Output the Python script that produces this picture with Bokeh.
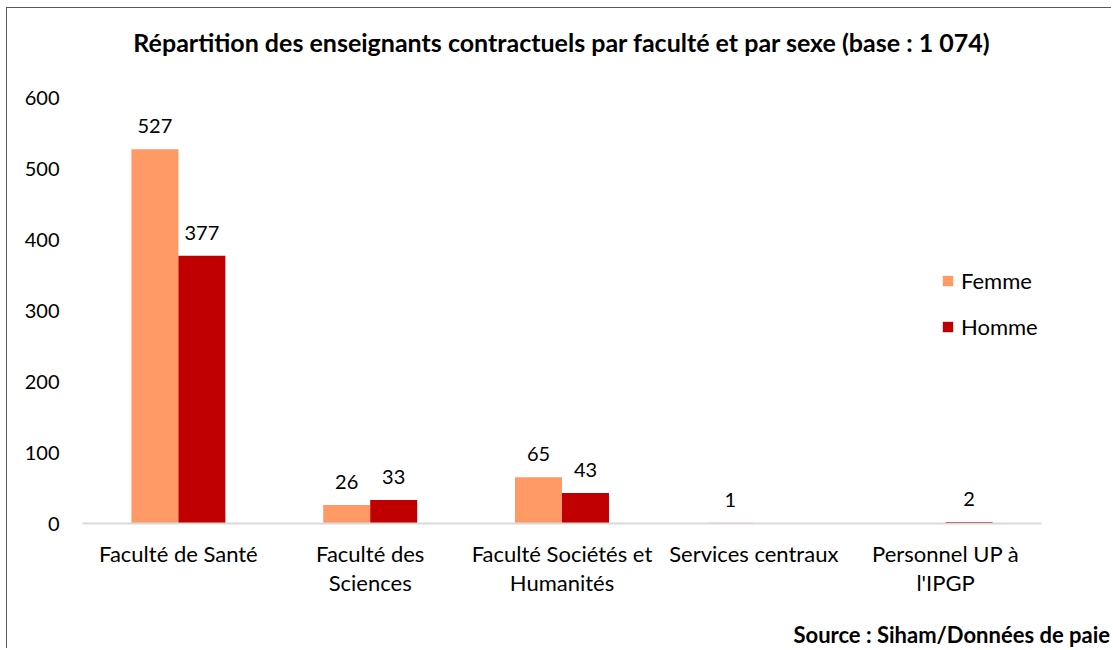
from bokeh.plotting import figure
from bokeh.models import ColumnDataSource, Legend, LegendItem, LabelSet, Range1d, FactorRange, Title
from bokeh.transform import dodge
from bokeh.core.properties import value
from bokeh.embed import file_html
from bokeh.resources import INLINE

categories = ["Faculté de Santé", "Faculté des\nSciences", "Faculté Sociétés et\nHumanités",
              "Services centraux", "Personnel UP à\nl'IPGP"]
femme = [527, 26, 65, 1, None]
homme = [377, 33, 43, None, 2]
y_ticks = [0, 100, 200, 300, 400, 500, 600]
title_text = "Répartition des enseignants contractuels par faculté et par sexe (base : 1 074)"
source_text = "Source : Siham/Données de paie"

FONT = "Lato"
C_F = "#FF9966"
C_H = "#C00000"

def nz(v):
    return float("nan") if v is None else v

src = ColumnDataSource(dict(cat=categories, femme=[nz(v) for v in femme], homme=[nz(v) for v in homme]))

lf = [(c, v) for c, v in zip(categories, femme) if v is not None]
lh = [(c, v) for c, v in zip(categories, homme) if v is not None]
src_lf = ColumnDataSource(dict(cat=[a for a, _ in lf], v=[b for _, b in lf], t=[str(b) for _, b in lf]))
src_lh = ColumnDataSource(dict(cat=[a for a, _ in lh], v=[b for _, b in lh], t=[str(b) for _, b in lh]))

p = figure(x_range=FactorRange(*categories, range_padding=0), y_range=Range1d(0, 600),
           width=1105, height=641, output_backend="svg", toolbar_location=None,
           min_border_left=75, min_border_right=71, min_border_top=89, min_border_bottom=126)
p.x_range.factor_padding = 0
p.styles = {"margin-left": "6px", "margin-top": "7px",
            "border-left": "1px solid #595959", "border-top": "1px solid #595959"}
p.outline_line_color = None
p.xgrid.grid_line_color = None
p.ygrid.grid_line_color = None

p.title.text = title_text
p.title.align = "center"
p.title.text_font = FONT
p.title.text_font_size = "25px"
p.title.text_font_style = "bold"
p.title.text_color = "#000000"
p.title.standoff = 0

# spacing between the title and the plot area
p.add_layout(Title(text=" ", text_font_size="1px", standoff=38), "above")

bw = 0.245
rf = p.vbar(x=dodge("cat", -bw / 2, range=p.x_range), top="femme", width=bw, source=src,
            fill_color=C_F, line_color=None)
rh = p.vbar(x=dodge("cat", bw / 2, range=p.x_range), top="homme", width=bw, source=src,
            fill_color=C_H, line_color=None)

for s, off in ((src_lf, -bw / 2), (src_lh, bw / 2)):
    p.add_layout(LabelSet(x=dodge("cat", off, range=p.x_range), y="v", text="t", source=s,
                          y_offset=16, text_align="center", text_baseline="bottom",
                          text_font=value(FONT), text_font_size="20px", text_color="#000000"))

p.yaxis.ticker = y_ticks
p.yaxis.axis_line_color = None
p.yaxis.major_tick_line_color = None
p.yaxis.minor_tick_line_color = None
p.yaxis.major_label_standoff = 17
p.yaxis.major_label_text_font = FONT
p.yaxis.major_label_text_font_size = "20px"
p.yaxis.major_label_text_color = "#000000"

xa = p.xaxis[0]
xa.axis_line_color = "#D9D9D9"
xa.axis_line_width = 2
xa.major_tick_line_color = None
xa.minor_tick_line_color = None
xa.major_label_standoff = 10
xa.major_label_text_font = FONT
xa.major_label_text_font_size = "22px"
xa.major_label_text_color = "#000000"
xa.major_label_text_line_height = 1.1

# spacing between the axis labels and the source note
p.add_layout(Title(text=" ", text_font_size="1px", standoff=16), "below")
src_title = Title(text=source_text, align="left", offset=711, standoff=0, text_font=FONT,
                  text_font_size="22px", text_font_style="bold", text_color="#000000")
p.add_layout(src_title, "below")

legend = Legend(items=[LegendItem(label="Femme", renderers=[rf]), LegendItem(label="Homme", renderers=[rh])],
                location=(859, 183), orientation="vertical", padding=0, margin=0, spacing=19,
                glyph_width=13, glyph_height=13, label_height=20, label_standoff=7,
                label_text_font=FONT, label_text_font_size="22px", label_text_color="#000000",
                background_fill_alpha=0, border_line_color=None)
p.add_layout(legend, "center")

open("out.html", "w").write(file_html(p, INLINE))
